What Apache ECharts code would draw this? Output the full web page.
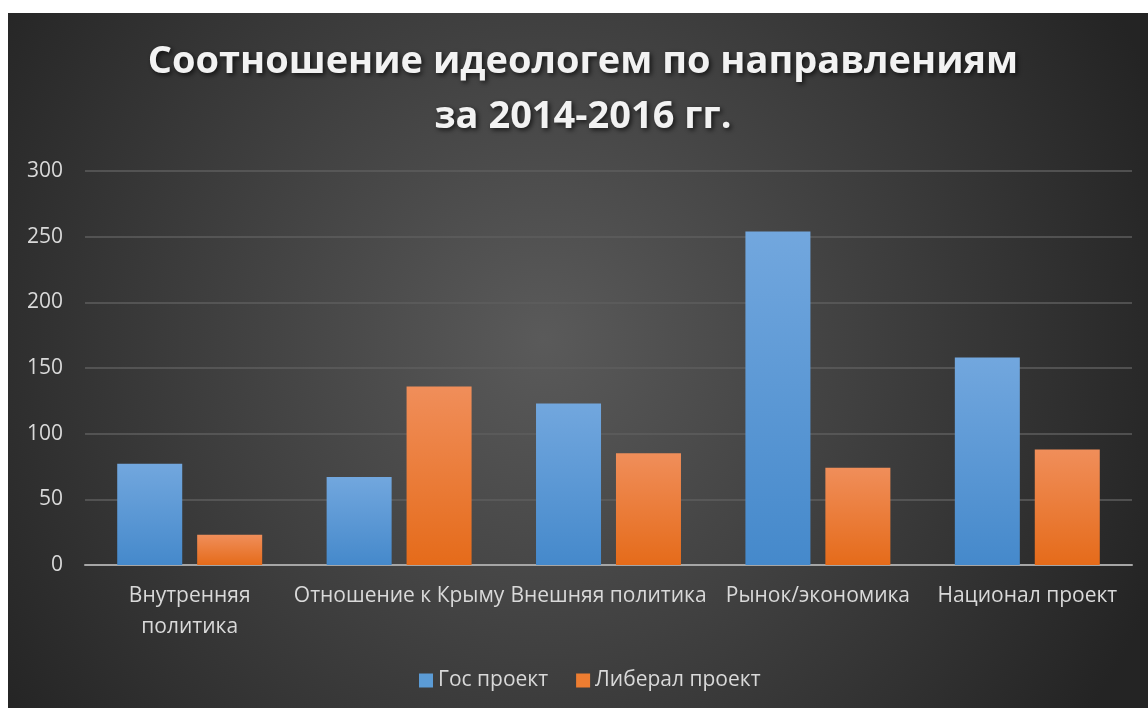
<!DOCTYPE html>
<html>
<head>
<meta charset="utf-8">
<script src="https://cdn.jsdelivr.net/npm/echarts@6/dist/echarts.min.js"></script>
<style>
html,body{margin:0;padding:0;background:#fff;width:1148px;height:708px;overflow:hidden;}
#c{position:absolute;left:8px;top:13px;width:1140px;height:695px;}
</style>
</head>
<body>
<div id="c"></div>
<script>
const categories = ['Внутренняя политика', 'Отношение к Крыму', 'Внешняя политика', 'Рынок/экономика', 'Национал проект'];
const gosValues = [77, 67, 123, 254, 158];
const liberalValues = [23, 136, 85, 74, 88];
const seriesNames = ['Гос проект', 'Либерал проект'];
const titleText = 'Соотношение идеологем по направлениям\nза 2014-2016 гг.';

const chart = echarts.init(document.getElementById('c'));
const font = '"Open Sans", "Noto Sans", sans-serif';
function grad(top, bottom){
  return {type:'linear',x:0,y:0,x2:0,y2:1,colorStops:[{offset:0,color:top},{offset:1,color:bottom}]};
}
chart.setOption({
  backgroundColor: {type:'radial', x:0.47, y:0.47, r:0.95, colorStops:[{offset:0,color:'#5a5a5a'},{offset:1,color:'#242424'}]},
  textStyle:{fontFamily:font},
  title:{
    text: titleText,
    left: 570,
    textAlign: 'center',
    top: 17,
    textStyle:{
      color:'#f2f2f2', fontSize:38, fontWeight:'bold', fontFamily:font, lineHeight:55,
      textShadowColor:'rgba(0,0,0,0.7)', textShadowBlur:5, textShadowOffsetX:2, textShadowOffsetY:2
    }
  },
  legend:{
    bottom: 12,
    left: 406,
    itemWidth: 14, itemHeight: 14, itemGap: 28, itemStyle:{borderWidth:0},
    icon: 'rect',
    textStyle:{color:'#d9d9d9', fontSize:21, fontFamily:font},
    data: seriesNames.map((n,i)=>({name:n, itemStyle:{color: i===0 ? '#5b9bd5' : '#ed7d31'}}))
  },
  grid:{left:77, right:16, top:158, bottom:143, containLabel:false},
  xAxis:{
    type:'category',
    data: categories,
    axisLine:{lineStyle:{color:'#a6a6a6', width:2}},
    axisTick:{show:false},
    axisLabel:{
      color:'#d9d9d9', fontSize:21, margin:16, lineHeight:31, interval:0,
      formatter: v => v === 'Внутренняя политика' ? 'Внутренняя\nполитика' : v
    }
  },
  yAxis:{
    type:'value', min:0, max:300, interval:50,
    axisLine:{show:false}, axisTick:{show:false},
    axisLabel:{color:'#d9d9d9', fontSize:21, margin:22},
    splitLine:{lineStyle:{color:'#5e5e5e', width:1.5}}
  },
  series:[
    {name:seriesNames[0], type:'bar', data:gosValues, barWidth:65, barGap:'23%',
     itemStyle:{color:grad('#72a7de','#4589cb'), shadowColor:'rgba(0,0,0,0.55)', shadowBlur:8, shadowOffsetX:2, shadowOffsetY:0}},
    {name:seriesNames[1], type:'bar', data:liberalValues, barWidth:65,
     itemStyle:{color:grad('#f08e5a','#e56b1a'), shadowColor:'rgba(0,0,0,0.55)', shadowBlur:8, shadowOffsetX:2, shadowOffsetY:0}}
  ]
});
</script>
</body>
</html>
